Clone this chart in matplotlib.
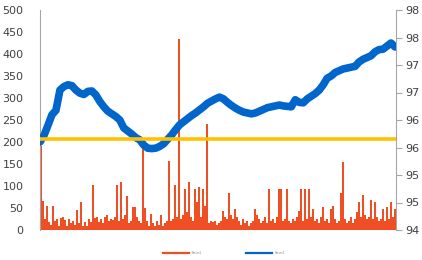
import math
import matplotlib
matplotlib.use("Agg")
import matplotlib.pyplot as plt
from matplotlib.ticker import FuncFormatter
from matplotlib.lines import Line2D

plt.rcParams['font.family'] = ['DejaVu Sans']

# Red bars (left axis)
bar_values = [
    190, 65, 25, 55, 18, 12, 55, 20, 25, 10,
    28, 30, 22, 8, 25, 15, 20, 12, 45, 15,
    63, 10, 18, 8, 25, 18, 102, 28, 30, 18,
    25, 15, 30, 35, 20, 25, 22, 30, 102, 20,
    109, 25, 35, 77, 15, 20, 53, 53, 30, 20,
    15, 205, 50, 20, 10, 37, 15, 8, 20, 12,
    33, 10, 15, 20, 157, 20, 25, 102, 30, 435,
    25, 35, 93, 40, 109, 30, 20, 93, 64, 98,
    30, 93, 55, 240, 15, 20, 18, 20, 12, 15,
    20, 43, 30, 25, 84, 35, 25, 48, 30, 20,
    12, 25, 15, 20, 10, 15, 20, 48, 35, 25,
    15, 20, 30, 15, 93, 20, 25, 15, 30, 93,
    93, 20, 25, 93, 20, 15, 25, 20, 30, 43,
    93, 20, 93, 25, 93, 30, 48, 20, 25, 15,
    30, 53, 20, 25, 15, 48, 55, 25, 15, 20,
    85, 155, 25, 15, 20, 30, 15, 25, 40, 64,
    30, 80, 35, 25, 30, 68, 25, 64, 30, 20,
    25, 48, 20, 53, 25, 64, 30, 48,
]

# Blue series (right axis)
blue_values = [
    95.600, 95.720, 95.904, 96.096, 96.176, 96.544, 96.608, 96.640, 96.624, 96.544,
    96.488, 96.464, 96.520, 96.528, 96.456, 96.336, 96.240, 96.160, 96.112, 96.064,
    96.000, 95.856, 95.800, 95.744, 95.680, 95.640, 95.544, 95.488, 95.480, 95.488,
    95.520, 95.568, 95.648, 95.728, 95.824, 95.912, 95.968, 96.024, 96.080, 96.128,
    96.184, 96.240, 96.304, 96.344, 96.384, 96.416, 96.384, 96.320, 96.264, 96.216,
    96.176, 96.144, 96.128, 96.112, 96.128, 96.160, 96.192, 96.224, 96.240, 96.256,
    96.272, 96.256, 96.248, 96.240, 96.368, 96.320, 96.312, 96.384, 96.432, 96.480,
    96.544, 96.640, 96.760, 96.800, 96.864, 96.896, 96.928, 96.944, 96.960, 96.976,
    97.056, 97.104, 97.136, 97.168, 97.240, 97.280, 97.288, 97.344, 97.400, 97.328,
]

threshold = 207  # gold horizontal line, left-axis units
left_ticks = list(range(0, 501, 50))
right_ticks = [94, 94.5, 95, 95.5, 96, 96.5, 97, 97.5, 98]
legend_labels = ["Series1", "Series2"]

RED = "#F04E23"
BLUE = "#0066CC"
GOLD = "#FFC000"
GRAY = "#A6A6A6"

fig = plt.figure(figsize=(4.22, 2.60), dpi=100)
ax = fig.add_axes([40/422, 30/260, 356/422, 220/260])
ax2 = ax.twinx()

n = len(bar_values)
xb = [i + 0.5 for i in range(n)]
ax.bar(xb, bar_values, width=1.0, color=RED, linewidth=0, zorder=2)
ax.set_xlim(0, n)
ax.set_ylim(0, 500)
ax.set_yticks(left_ticks)

m = len(blue_values)
xl = [i * (n - 0.5) / (m - 1) for i in range(m)]
ax2.plot(xl, blue_values, color=BLUE, linewidth=5.5, solid_capstyle='round',
         solid_joinstyle='round', zorder=3)
ax2.set_ylim(94, 98)
ax2.set_yticks(right_ticks)
ax2.yaxis.set_major_formatter(FuncFormatter(lambda v, p: str(int(math.floor(v + 0.5)))))
ax2.axhline(94 + threshold * 4 / 500, color=GOLD, linewidth=2.6, zorder=4)
ax2.set_xlim(0, n)

for a in (ax, ax2):
    for s in ('top', 'bottom'):
        a.spines[s].set_visible(False)
    a.set_xticks([])
ax.spines['right'].set_visible(False)
ax2.spines['left'].set_visible(False)
ax.spines['left'].set_color(GRAY)
ax2.spines['right'].set_color(GRAY)
ax.tick_params(axis='y', length=0, pad=12, labelsize=8, labelcolor="#404040")
ax2.tick_params(axis='y', length=4, width=0.8, color=GRAY, pad=3, labelsize=8, labelcolor="#404040")

handles = [Line2D([0], [0], color=RED, lw=1.6), Line2D([0], [0], color=BLUE, lw=1.6)]
leg = fig.legend(handles, legend_labels, loc='center', bbox_to_anchor=(224/422, 1 - 253/260),
                 ncol=2, fontsize=2, frameon=False, handlelength=9.4,
                 handletextpad=0.8, columnspacing=16)
for t in leg.get_texts():
    t.set_color("#808080")

fig.savefig("out.png", dpi=100)
